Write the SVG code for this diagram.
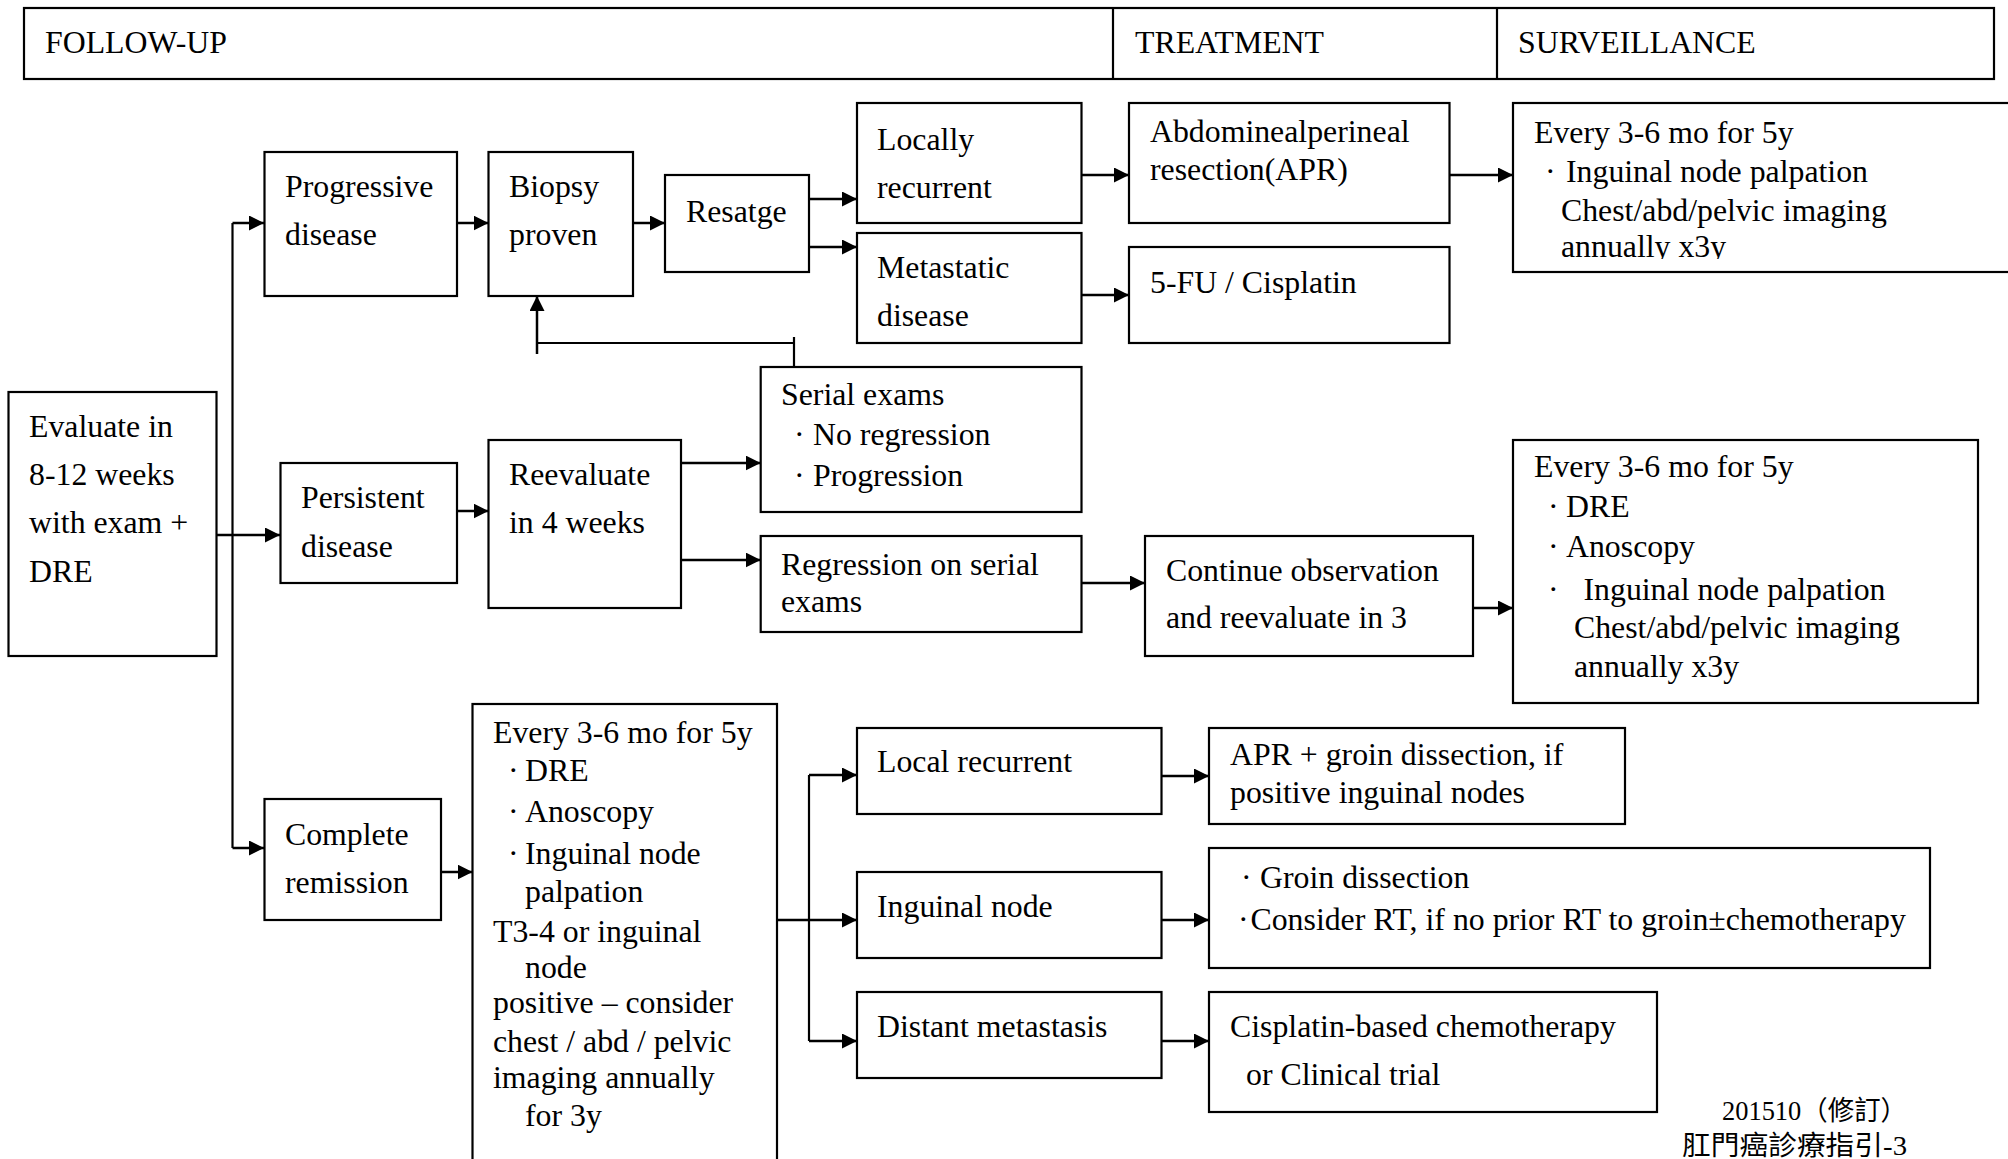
<svg xmlns="http://www.w3.org/2000/svg" width="2008" height="1159" viewBox="0 0 2008 1159">
<style>
.box{fill:#fff;stroke:#000;stroke-width:2.2}
.t{font-family:"Liberation Serif","Noto Sans CJK TC",serif;font-size:31.8px;fill:#000}
.f{font-family:"Liberation Serif","Noto Sans CJK TC",serif;font-size:27px;fill:#000}
.c{stroke:#000;stroke-width:2.5;fill:none}
.l{stroke:#000;stroke-width:2.2;fill:none}
</style>
<defs>
<marker id="ah" markerUnits="userSpaceOnUse" markerWidth="16" markerHeight="15" refX="15" refY="7.5" orient="auto">
<path d="M0,0 L15,7.5 L0,15 z" fill="#000"/>
</marker>
<clipPath id="clipS1"><rect x="1513" y="103" width="500" height="156"/></clipPath>
</defs>
<rect width="2008" height="1159" fill="#fff"/>

<g id="header">
<rect class="box" x="24" y="8" width="1970" height="71"/>
<line class="l" x1="1113" y1="8" x2="1113" y2="79"/>
<line class="l" x1="1497" y1="8" x2="1497" y2="79"/>
<text class="t" x="45" y="53">FOLLOW-UP</text>
<text class="t" x="1135" y="53">TREATMENT</text>
<text class="t" x="1518" y="53">SURVEILLANCE</text>
</g>

<g id="connectors">
<path class="l" d="M232.5,223 V848"/>
<path class="c" d="M217,535 H280" marker-end="url(#ah)"/>
<path class="c" d="M232.5,223 H264" marker-end="url(#ah)"/>
<path class="c" d="M232.5,848 H264" marker-end="url(#ah)"/>
<path class="c" d="M457,223 H488.5" marker-end="url(#ah)"/>
<path class="c" d="M633,223 H665" marker-end="url(#ah)"/>
<path class="c" d="M809,199 H857" marker-end="url(#ah)"/>
<path class="c" d="M809,247 H857" marker-end="url(#ah)"/>
<path class="c" d="M1081.5,175 H1129" marker-end="url(#ah)"/>
<path class="c" d="M1081.5,295 H1129" marker-end="url(#ah)"/>
<path class="c" d="M1449.6,175 H1513" marker-end="url(#ah)"/>
<path class="c" d="M537,354 V296" marker-end="url(#ah)"/>
<path class="l" d="M537,343 H794 M794,337 V367"/>
<path class="c" d="M457,511 H488.5" marker-end="url(#ah)"/>
<path class="c" d="M681,463 H760.7" marker-end="url(#ah)"/>
<path class="c" d="M681,560 H760.7" marker-end="url(#ah)"/>
<path class="c" d="M1081.5,583 H1145" marker-end="url(#ah)"/>
<path class="c" d="M1473,608 H1513" marker-end="url(#ah)"/>
<path class="c" d="M441,872 H472.5" marker-end="url(#ah)"/>
<path class="c" d="M777,920 H857" marker-end="url(#ah)"/>
<path class="l" d="M809,775 V1041"/>
<path class="c" d="M809,775 H857" marker-end="url(#ah)"/>
<path class="c" d="M809,1041 H857" marker-end="url(#ah)"/>
<path class="c" d="M1161.5,776 H1209" marker-end="url(#ah)"/>
<path class="c" d="M1161.5,920 H1209" marker-end="url(#ah)"/>
<path class="c" d="M1161.5,1041 H1209" marker-end="url(#ah)"/>
</g>

<g id="evaluate">
<rect class="box" x="8.5" y="392" width="208" height="264"/>
<text class="t" x="29" y="437">Evaluate in</text>
<text class="t" x="29" y="485">8-12 weeks</text>
<text class="t" x="29" y="533">with exam +</text>
<text class="t" x="29" y="582">DRE</text>
</g>

<g id="progressive">
<rect class="box" x="264.5" y="152" width="192.5" height="144"/>
<text class="t" x="285" y="197">Progressive</text>
<text class="t" x="285" y="245">disease</text>
</g>

<g id="biopsy">
<rect class="box" x="488.5" y="152" width="144.5" height="144"/>
<text class="t" x="509" y="197">Biopsy</text>
<text class="t" x="509" y="245">proven</text>
</g>

<g id="restage">
<rect class="box" x="665" y="175" width="144" height="97"/>
<text class="t" x="686" y="222">Resatge</text>
</g>

<g id="locally">
<rect class="box" x="857" y="103" width="224.5" height="120"/>
<text class="t" x="877" y="150">Locally</text>
<text class="t" x="877" y="198">recurrent</text>
</g>

<g id="metastatic">
<rect class="box" x="857" y="233" width="224.5" height="110"/>
<text class="t" x="877" y="278">Metastatic</text>
<text class="t" x="877" y="326">disease</text>
</g>

<g id="apr">
<rect class="box" x="1129" y="103" width="320.5" height="120"/>
<text class="t" x="1150" y="142">Abdominealperineal</text>
<text class="t" x="1150" y="180">resection(APR)</text>
</g>

<g id="fu">
<rect class="box" x="1129" y="247" width="320.5" height="96"/>
<text class="t" x="1150" y="293">5-FU / Cisplatin</text>
</g>

<g id="surv1">
<rect class="box" x="1513" y="103" width="510" height="169"/>
<text class="t" x="1534" y="143">Every 3-6 mo for 5y</text>
<text class="t" y="182"><tspan x="1545">·</tspan><tspan x="1566">Inguinal node palpation</tspan></text>
<text class="t" x="1561" y="221">Chest/abd/pelvic imaging</text>
<text class="t" x="1561" y="257" clip-path="url(#clipS1)">annually x3y</text>
</g>

<g id="persistent">
<rect class="box" x="280.5" y="463" width="176.5" height="120"/>
<text class="t" x="301" y="508">Persistent</text>
<text class="t" x="301" y="557">disease</text>
</g>

<g id="reevaluate">
<rect class="box" x="488.5" y="440" width="192.5" height="168"/>
<text class="t" x="509" y="485">Reevaluate</text>
<text class="t" x="509" y="533">in 4 weeks</text>
</g>

<g id="serial">
<rect class="box" x="760.7" y="367" width="320.8" height="145"/>
<text class="t" x="781" y="405">Serial exams</text>
<text class="t" y="445"><tspan x="794">·</tspan><tspan x="813">No regression</tspan></text>
<text class="t" y="486"><tspan x="794">·</tspan><tspan x="813">Progression</tspan></text>
</g>

<g id="regression">
<rect class="box" x="760.7" y="536" width="320.8" height="96"/>
<text class="t" x="781" y="575">Regression on serial</text>
<text class="t" x="781" y="612">exams</text>
</g>

<g id="continue">
<rect class="box" x="1145" y="536" width="328" height="120"/>
<text class="t" x="1166" y="581">Continue observation</text>
<text class="t" x="1166" y="628">and reevaluate in 3</text>
</g>

<g id="surv2">
<rect class="box" x="1513" y="440" width="465" height="263"/>
<text class="t" x="1534" y="477">Every 3-6 mo for 5y</text>
<text class="t" y="517"><tspan x="1548">·</tspan><tspan x="1566">DRE</tspan></text>
<text class="t" y="557"><tspan x="1548">·</tspan><tspan x="1566">Anoscopy</tspan></text>
<text class="t" y="600"><tspan x="1548">·</tspan><tspan x="1583.5">Inguinal node palpation</tspan></text>
<text class="t" x="1574" y="638">Chest/abd/pelvic imaging</text>
<text class="t" x="1574" y="677">annually x3y</text>
</g>

<g id="complete">
<rect class="box" x="264.5" y="799" width="176.5" height="121"/>
<text class="t" x="285" y="845">Complete</text>
<text class="t" x="285" y="893">remission</text>
</g>

<g id="every">
<rect class="box" x="472.5" y="704" width="304.5" height="470"/>
<text class="t" x="493" y="743">Every 3-6 mo for 5y</text>
<text class="t" y="781"><tspan x="508">·</tspan><tspan x="525">DRE</tspan></text>
<text class="t" y="822"><tspan x="508">·</tspan><tspan x="525">Anoscopy</tspan></text>
<text class="t" y="864"><tspan x="508">·</tspan><tspan x="525">Inguinal node</tspan></text>
<text class="t" x="525" y="902">palpation</text>
<text class="t" x="493" y="942">T3-4 or inguinal</text>
<text class="t" x="525" y="978">node</text>
<text class="t" x="493" y="1013">positive – consider</text>
<text class="t" x="493" y="1052">chest / abd / pelvic</text>
<text class="t" x="493" y="1088">imaging annually</text>
<text class="t" x="525" y="1126">for 3y</text>
</g>

<g id="localrec">
<rect class="box" x="857" y="728" width="304.5" height="86"/>
<text class="t" x="877" y="772">Local recurrent</text>
</g>

<g id="inguinal">
<rect class="box" x="857" y="872" width="304.5" height="86"/>
<text class="t" x="877" y="917">Inguinal node</text>
</g>

<g id="distant">
<rect class="box" x="857" y="992" width="304.5" height="86"/>
<text class="t" x="877" y="1037">Distant metastasis</text>
</g>

<g id="aprgroin">
<rect class="box" x="1209" y="728" width="416" height="96"/>
<text class="t" x="1230" y="765">APR + groin dissection, if</text>
<text class="t" x="1230" y="803">positive inguinal nodes</text>
</g>

<g id="groin">
<rect class="box" x="1209" y="848" width="721" height="120"/>
<text class="t" y="888"><tspan x="1241">·</tspan><tspan x="1260">Groin dissection</tspan></text>
<text class="t" y="930"><tspan x="1238">·</tspan><tspan x="1250.5">Consider RT, if no prior RT to groin±chemotherapy</tspan></text>
</g>

<g id="cisplatin">
<rect class="box" x="1209" y="992" width="448" height="120"/>
<text class="t" x="1230" y="1037">Cisplatin-based chemotherapy</text>
<text class="t" x="1246" y="1085">or Clinical trial</text>
</g>

<g id="footer">
<text class="f" x="1722" y="1120" textLength="185" lengthAdjust="spacingAndGlyphs">201510（修訂）</text>
<text class="f" x="1682" y="1155" textLength="225" lengthAdjust="spacingAndGlyphs">肛門癌診療指引-3</text>
</g>
</svg>
